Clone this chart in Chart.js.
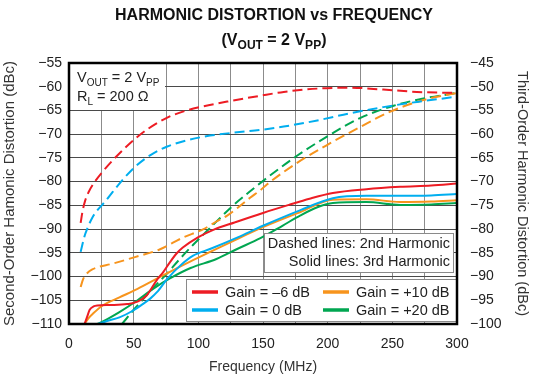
<!DOCTYPE html>
<html>
<head>
<meta charset="utf-8">
<script src="https://cdn.jsdelivr.net/npm/chart.js@4.4.1/dist/chart.umd.min.js"></script>
<style>
  html, body { margin: 0; padding: 0; background: #fff; }
</style>
</head>
<body>
<canvas id="hdChart" width="550" height="384"></canvas>
<script>
// --- data (frequency in MHz, distortion in dBc) ---
const gainLabels = ['Gain = \u20136 dB', 'Gain = 0 dB', 'Gain = +10 dB', 'Gain = +20 dB'];
const gainColors = ['#ed1c24', '#00aeef', '#f7941d', '#00a651'];

const xTickLabels = [0, 50, 100, 150, 200, 250, 300];
const leftTicks = [-110, -105, -100, -95, -90, -85, -80, -75, -70, -65, -60, -55];
const rightTicks = [-100, -95, -90, -85, -80, -75, -70, -65, -60, -55, -50, -45];

// 2nd harmonic (dashed, left axis)
const hd2FreqM6 = [9, 10.5, 12.5, 15, 19, 26, 37, 51, 61, 76, 91, 101, 125, 148, 166, 192, 217, 243, 269, 300];
const hd2M6 = [-88.7, -86.2, -84.0, -82.3, -80.4, -77.9, -74.6, -71.0, -68.9, -66.5, -65.0, -64.3, -63.0, -61.9, -61.1, -60.4, -60.2, -60.6, -61.1, -61.3];
const hd2Freq0 = [9, 12, 14, 18, 22, 26, 30, 39, 51, 63, 76, 91, 109, 127, 148, 166, 192, 217, 243, 269, 297];
const hd20 = [-94.8, -91.5, -90.0, -87.6, -86.0, -84.8, -83.5, -80.4, -76.9, -74.4, -72.6, -71.3, -70.3, -69.7, -69.1, -68.4, -67.1, -65.6, -64.3, -63.2, -62.2];
const hd2Freq10 = [9, 11, 14, 18, 24, 32, 51, 70, 88, 104, 114, 122, 130, 140, 148, 153, 176, 202, 225, 248, 274, 300];
const hd210 = [-102.2, -100.5, -99.3, -98.5, -97.9, -97.4, -95.9, -94.3, -91.8, -90.0, -88.4, -87.2, -85.6, -83.4, -81.8, -80.6, -76.1, -71.9, -68.5, -65.3, -62.8, -61.3];
const hd2Freq20 = [41, 44, 50, 56, 63, 75, 85, 96, 107, 117, 127, 142, 155, 176, 202, 225, 251, 274, 300];
const hd220 = [-110, -109.0, -107.0, -105.2, -103.0, -99.6, -96.5, -93.3, -90.3, -87.6, -85.0, -81.6, -78.8, -74.6, -70.1, -66.6, -64.0, -62.5, -61.3];

// 3rd harmonic (solid, right axis)
const hd3FreqM6 = [12, 14, 16, 19, 22, 32, 45, 53, 60, 68, 73, 78, 83, 88, 100, 112, 128, 150, 170, 186, 204, 230, 256, 280, 300];
const hd3M6 = [-100, -98.5, -97, -96.3, -96.1, -96, -95.8, -95.3, -94, -90.7, -89.0, -87.0, -85.2, -83.9, -81.7, -80.1, -78.6, -76.6, -74.9, -73.6, -72.4, -71.6, -71.1, -70.8, -70.4];
const hd3Freq0 = [22, 30, 39, 50, 57, 63, 68, 76, 86, 96, 110, 130, 150, 179, 204, 230, 256, 280, 300];
const hd30 = [-100, -99.3, -98.6, -97.1, -95.8, -94.6, -93.3, -90.5, -87.7, -85.6, -84.1, -81.8, -79.3, -76.0, -73.5, -73.0, -73.0, -72.9, -72.6];
const hd3Freq10 = [12, 15, 19, 26, 39, 53, 69, 78, 94, 110, 130, 150, 179, 204, 230, 256, 280, 300];
const hd310 = [-100, -98.8, -97.7, -96.1, -94.4, -92.6, -90.3, -89.0, -86.8, -84.7, -82.1, -79.6, -76.4, -73.8, -73.7, -74.3, -74.2, -73.9];
const hd3Freq20 = [22, 30, 39, 53, 65, 78, 94, 114, 130, 148, 165, 179, 192, 204, 230, 256, 280, 300];
const hd320 = [-100, -98.9, -97.5, -95, -92.6, -90.4, -88.2, -86.3, -84.2, -81.9, -79.3, -77.1, -75.4, -74.5, -74.3, -74.9, -74.8, -74.5];

const FONT = '"Liberation Sans", Arial, Helvetica, sans-serif';

function pts(fs, vs) {
    return fs.map((f, i) => ({ x: f, y: vs[i] }));
}

const hd2Sets = [[hd2FreqM6, hd2M6], [hd2Freq0, hd20], [hd2Freq10, hd210], [hd2Freq20, hd220]];
const hd3Sets = [[hd3FreqM6, hd3M6], [hd3Freq0, hd30], [hd3Freq10, hd310], [hd3Freq20, hd320]];

const datasets = [];
hd3Sets.forEach((s, i) => {
    datasets.push({
        label: gainLabels[i] + ' (3rd)',
        data: pts(s[0], s[1]),
        borderColor: gainColors[i],
        borderWidth: 2,
        yAxisID: 'y1'
    });
});
hd2Sets.forEach((s, i) => {
    datasets.push({
        label: gainLabels[i] + ' (2nd)',
        data: pts(s[0], s[1]),
        borderColor: gainColors[i],
        borderWidth: 2,
        borderDash: [10, 5],
        yAxisID: 'y'
    });
});

const minus = v => String(v).replace('-', '\u2212');

// text with subscripts: parts = [[text, isSub], ...]
function drawRuns(ctx, parts, x, y, size, weight, align) {
    const subSize = Math.round(size * 0.72);
    const widths = parts.map(p => {
        ctx.font = weight + ' ' + (p[1] ? subSize : size) + 'px ' + FONT;
        return ctx.measureText(p[0]).width;
    });
    const total = widths.reduce((a, b) => a + b, 0);
    let cx = align === 'center' ? x - total / 2 : (align === 'right' ? x - total : x);
    ctx.textAlign = 'left';
    ctx.textBaseline = 'alphabetic';
    parts.forEach((p, i) => {
        ctx.font = weight + ' ' + (p[1] ? subSize : size) + 'px ' + FONT;
        ctx.fillText(p[0], cx, y + (p[1] ? size * 0.25 : 0));
        cx += widths[i];
    });
}

function box(ctx, x, y, w, h, stroke) {
    ctx.fillStyle = '#fff';
    ctx.fillRect(x, y, w, h);
    if (stroke) {
        ctx.strokeStyle = '#8a8a8a';
        ctx.lineWidth = 1;
        ctx.strokeRect(x + 0.5, y + 0.5, w, h);
    }
}

const overlayPlugin = {
    id: 'overlay',
    afterDatasetsDraw(chart) {
        const ctx = chart.ctx;
        const a = chart.chartArea;
        ctx.save();

        // condition box, top left
        box(ctx, a.left, a.top, 96, 47, false);
        ctx.fillStyle = '#222';
        drawRuns(ctx, [['V', 0], ['OUT', 1], [' = 2 V', 0], ['PP', 1]], 77, 82, 14.5, 'normal', 'left');
        drawRuns(ctx, [['R', 0], ['L', 1], [' = 200 \u03a9', 0]], 77, 101, 14.5, 'normal', 'left');

        // dashed / solid note
        box(ctx, 264, 233, 189, 39, true);
        ctx.fillStyle = '#222';
        ctx.font = '14.5px ' + FONT;
        ctx.textAlign = 'right';
        ctx.textBaseline = 'alphabetic';
        ctx.fillText('Dashed lines: 2nd Harmonic', 450, 248);
        ctx.fillText('Solid lines: 3rd Harmonic', 450, 266);

        // legend
        box(ctx, 186, 279, 271, 42, true);
        const colX = [192, 323];
        const rowY = [292, 310];
        gainLabels.forEach((lbl, i) => {
            const x = colX[Math.floor(i / 2)];
            const y = rowY[i % 2];
            ctx.strokeStyle = gainColors[i];
            ctx.lineWidth = 3.5;
            ctx.beginPath();
            ctx.moveTo(x, y);
            ctx.lineTo(x + 26, y);
            ctx.stroke();
            ctx.fillStyle = '#222';
            ctx.font = '14.5px ' + FONT;
            ctx.textAlign = 'left';
            ctx.fillText(lbl, x + 33, y + 5);
        });

        // plot frame
        ctx.strokeStyle = '#000';
        ctx.lineWidth = 2.5;
        ctx.strokeRect(a.left, a.top, a.right - a.left, a.bottom - a.top);

        // titles
        ctx.fillStyle = '#111';
        ctx.font = 'bold 16px ' + FONT;
        ctx.textAlign = 'center';
        ctx.fillText('HARMONIC DISTORTION vs FREQUENCY', 274, 20);
        drawRuns(ctx, [['(V', 0], ['OUT', 1], [' = 2 V', 0], ['PP', 1], [')', 0]], 274, 45, 16, 'bold', 'center');

        ctx.restore();
    }
};

const tickFont = { family: FONT, size: 14 };

new Chart(document.getElementById('hdChart'), {
    type: 'line',
    data: { datasets: datasets },
    plugins: [overlayPlugin],
    options: {
        responsive: false,
        animation: false,
        layout: { padding: { top: 63, left: 0, right: 0, bottom: 0 } },
        plugins: {
            legend: { display: false },
            tooltip: { enabled: false }
        },
        elements: {
            point: { radius: 0 },
            line: { cubicInterpolationMode: 'monotone' }
        },
        scales: {
            x: {
                type: 'linear',
                min: 0,
                max: 300,
                afterFit: s => { s.height = 60; },
                ticks: {
                    stepSize: 25,
                    autoSkip: false,
                    maxRotation: 0,
                    padding: 12,
                    color: '#222',
                    font: tickFont,
                    callback: v => xTickLabels.includes(v) ? String(v) : ''
                },
                grid: { color: '#8c8c8c', drawTicks: false },
                border: { display: false },
                title: {
                    display: true,
                    text: 'Frequency (MHz)',
                    color: '#333',
                    font: { family: FONT, size: 14 },
                    padding: { top: 0, bottom: 8 }
                }
            },
            y: {
                position: 'left',
                min: -110,
                max: -55,
                afterFit: s => { s.width = 69; },
                afterBuildTicks: s => { s.ticks = leftTicks.map(v => ({ value: v })); },
                ticks: {
                    padding: 7,
                    color: '#222',
                    font: tickFont,
                    callback: v => minus(v)
                },
                grid: { color: '#4a4a4a', drawTicks: false },
                border: { display: false },
                title: {
                    display: true,
                    text: 'Second-Order Hamonic Distortion (dBc)',
                    color: '#333',
                    font: { family: FONT, size: 15 },
                    padding: { top: 1, bottom: 0 }
                }
            },
            y1: {
                position: 'right',
                min: -100,
                max: -45,
                afterFit: s => { s.width = 93; },
                afterBuildTicks: s => { s.ticks = rightTicks.map(v => ({ value: v })); },
                ticks: {
                    padding: 13,
                    color: '#222',
                    font: tickFont,
                    callback: v => minus(v)
                },
                grid: { display: false, drawTicks: false },
                border: { display: false },
                title: {
                    display: true,
                    text: 'Third-Order Harmonic Distortion (dBc)',
                    color: '#333',
                    font: { family: FONT, size: 14.5 },
                    padding: { top: 19, bottom: 0 }
                }
            }
        }
    }
});
</script>
</body>
</html>
